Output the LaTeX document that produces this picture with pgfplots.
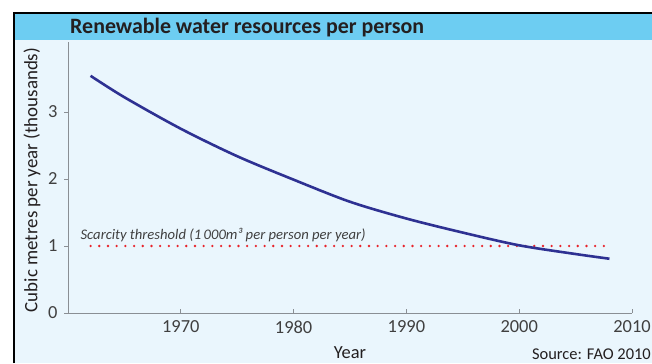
\documentclass[border=0pt]{standalone}
\usepackage{pgfplots}
\pgfplotsset{compat=1.18}
\usepackage{fontspec}
\setmainfont{Carlito}
\definecolor{bgpale}{HTML}{EAF6FD}
\definecolor{titleblue}{HTML}{6DCDF2}
\definecolor{curvecol}{HTML}{2E3192}
\definecolor{redth}{HTML}{E8232A}
\definecolor{txt}{HTML}{231F20}
\definecolor{ticktxt}{HTML}{404040}
\definecolor{axgray}{HTML}{8A8F94}
\begin{document}
\begin{tikzpicture}[x=1bp,y=1bp]
\useasboundingbox (0,0) rectangle (652,363);
\fill[bgpale] (14,0) rectangle (652,350);
\fill[titleblue] (14,323) rectangle (652,350);
\draw[black, line width=1.4bp] (14,0) -- (14,350) -- (652,350);
\node[anchor=base west, font=\bfseries\fontsize{22}{24}\selectfont, text=txt, inner sep=0pt] at (70,330) {Renewable water resources per person};
\node[rotate=90, anchor=center, font=\fontsize{19}{21}\selectfont, text=txt, inner sep=0pt] at (32,183) {Cubic metres per year (thousands)};
\begin{axis}[
  at={(68bp,50bp)}, anchor=south west,
  scale only axis, width=564bp, height=271.35bp,
  xmin=1960, xmax=2010, ymin=0, ymax=4.05,
  axis x line=bottom, axis y line=left,
  axis line style={-, axgray, line width=0.9bp},
  xtick={1970,1980,1990,2000,2010},
  ytick={0,1,2,3},
  xticklabel style={font=\fontsize{18.5}{20}\selectfont, text=ticktxt, yshift=-4bp},
  yticklabel style={font=\fontsize{18.5}{20}\selectfont, text=ticktxt, xshift=-3bp},
  /pgf/number format/assume math mode=true,
  /pgf/number format/1000 sep={},
  x tick style={axgray, line width=0.8bp}, y tick style={axgray, line width=0.8bp},
  major tick length=4bp,
  xtick align=inside, ytick align=outside,
  xlabel={Year},
  xlabel style={font=\fontsize{18.5}{20}\selectfont, text=txt, at={(axis description cs:0.5,0)}, anchor=center, yshift=-40bp},
  clip=false,
]
\addplot[redth, line width=2.6bp, line cap=round, dash pattern=on 0bp off 8.7bp] coordinates {(1962,1) (2008,1)};
\addplot[curvecol, line width=2.6bp, smooth] coordinates {
(1962,3.54) (1965,3.22) (1970,2.75) (1975,2.34) (1980,1.99) (1985,1.66) (1990,1.41) (1995,1.20) (2000,1.01) (2005,0.88) (2008,0.81)};
\node[anchor=base west, font=\itshape\fontsize{14.7}{16}\selectfont, text=ticktxt, inner sep=0pt] at (axis cs:1961.1,1.09) {Scarcity threshold (1\,000m³ per person per year)};
\end{axis}
\node[anchor=base east, font=\fontsize{16.5}{18}\selectfont, text=txt, inner sep=0pt] at (651,4) {Source: FAO 2010};
\end{tikzpicture}
\end{document}
